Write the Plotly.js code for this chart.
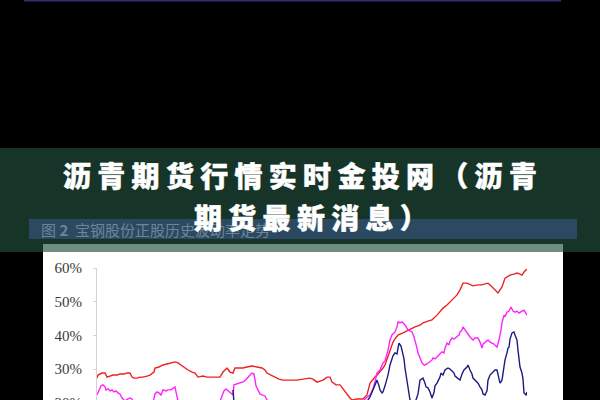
<!DOCTYPE html>
<html>
<head>
<meta charset="utf-8">
<script src="https://cdn.plot.ly/plotly-3.0.1.min.js"></script>
<style>
html,body{margin:0;padding:0;background:#000;overflow:hidden;width:600px;height:400px;}
#chart{width:600px;height:420px;}
</style>
</head>
<body>
<div id="chart"></div>
<script>
// ---- data (time index, volatility) ----
const redX = [0,1,5,8,10,13,16,20,23,27,30,33,35,37,40,43,46,50,53,57,58,62,66,70,73,76,78,81,85,88,91,95,98,101,104,106,110,115,119,123,126,130,133,136,138,142,146,150,155,160,163,165,168,170,174,178,182,186,193,200,206,213,216,220,223,226,230,233,235,239,243,248,251,253,255,260,266,270,273,276,278,281,283,286,288,290,292,294,296,298,301,306,310,313,318,323,326,331,335,340,346,350,353,357,360,363,366,370,373,376,381,385,388,391,394,396,399,401,403,405,408,411,413,417,420,423,425,427,429,430];
const redY = [0.273,0.282,0.288,0.288,0.276,0.279,0.282,0.282,0.285,0.285,0.288,0.288,0.276,0.273,0.273,0.276,0.276,0.279,0.282,0.291,0.303,0.306,0.312,0.315,0.318,0.321,0.321,0.318,0.309,0.303,0.297,0.291,0.288,0.276,0.279,0.279,0.276,0.276,0.276,0.276,0.291,0.303,0.291,0.288,0.303,0.303,0.303,0.306,0.309,0.306,0.303,0.303,0.297,0.288,0.282,0.276,0.270,0.267,0.267,0.267,0.270,0.273,0.270,0.261,0.264,0.267,0.276,0.276,0.261,0.253,0.253,0.232,0.223,0.214,0.208,0.211,0.211,0.223,0.258,0.270,0.276,0.285,0.291,0.303,0.312,0.330,0.348,0.365,0.380,0.390,0.401,0.407,0.413,0.416,0.425,0.430,0.437,0.442,0.446,0.460,0.481,0.490,0.499,0.510,0.520,0.535,0.555,0.555,0.550,0.547,0.550,0.550,0.553,0.555,0.547,0.541,0.532,0.526,0.535,0.544,0.570,0.576,0.579,0.582,0.585,0.582,0.579,0.588,0.594,0.597];

const magX = [0,2,4,6,8,9,11,13,15,17,19,21,23,25,28,31,33,35,37,43,51,56,58,60,62,64,66,69,71,74,76,78,79,81,85,98,113,122,125,127,129,131,133,135,136,137,140,143,146,149,151,153,155,157,159,161,163,165,168,170,173,188,213,238,258,265,269,273,276,278,280,283,286,288,291,293,295,298,300,301,303,305,307,308,311,313,315,317,318,320,321,323,325,327,328,330,333,335,336,338,340,342,345,347,348,350,352,353,355,357,360,362,363,365,366,368,370,372,373,375,376,378,381,383,385,386,388,390,391,393,395,397,400,402,404,405,407,408,410,412,414,416,418,420,422,423,425,427,429,430];
const magY = [0.223,0.238,0.250,0.253,0.247,0.238,0.241,0.235,0.238,0.232,0.235,0.229,0.226,0.214,0.205,0.211,0.214,0.211,0.195,0.185,0.190,0.200,0.226,0.232,0.229,0.223,0.238,0.235,0.238,0.238,0.244,0.247,0.232,0.205,0.190,0.180,0.185,0.195,0.220,0.235,0.241,0.235,0.232,0.226,0.223,0.253,0.256,0.259,0.262,0.268,0.276,0.282,0.288,0.285,0.250,0.238,0.226,0.223,0.220,0.208,0.195,0.175,0.170,0.175,0.185,0.200,0.214,0.223,0.241,0.262,0.288,0.297,0.318,0.324,0.356,0.386,0.401,0.410,0.425,0.440,0.437,0.440,0.434,0.431,0.416,0.413,0.410,0.395,0.386,0.362,0.348,0.333,0.318,0.312,0.312,0.315,0.321,0.327,0.333,0.330,0.336,0.342,0.351,0.348,0.362,0.377,0.371,0.383,0.392,0.389,0.395,0.401,0.410,0.416,0.425,0.416,0.410,0.401,0.395,0.389,0.386,0.392,0.392,0.380,0.362,0.374,0.380,0.383,0.386,0.380,0.377,0.374,0.365,0.386,0.416,0.437,0.460,0.455,0.469,0.472,0.484,0.472,0.469,0.472,0.466,0.469,0.472,0.475,0.466,0.460];

const navyX = [136,137,139,163,203,243,263,269,271,273,275,278,280,282,283,285,286,288,290,291,293,295,296,298,300,301,302,304,305,307,308,310,311,312,313,315,318,320,321,323,325,326,328,329,331,333,335,337,338,340,343,344,346,348,351,353,355,357,358,360,361,363,365,367,370,371,373,375,376,378,381,383,385,386,388,390,391,393,395,396,398,400,402,403,405,406,408,410,411,412,413,415,417,418,420,421,422,423,424,425,426,427,429,430];
const navyY = [0.238,0.200,0.170,0.150,0.140,0.160,0.180,0.200,0.208,0.217,0.232,0.253,0.267,0.250,0.238,0.229,0.232,0.250,0.267,0.282,0.312,0.330,0.339,0.348,0.345,0.362,0.377,0.368,0.356,0.330,0.303,0.270,0.247,0.226,0.208,0.190,0.200,0.217,0.226,0.267,0.270,0.273,0.258,0.247,0.244,0.232,0.214,0.230,0.250,0.258,0.276,0.288,0.282,0.297,0.303,0.300,0.294,0.288,0.279,0.273,0.270,0.267,0.285,0.297,0.306,0.312,0.297,0.285,0.273,0.267,0.258,0.247,0.238,0.226,0.223,0.235,0.267,0.282,0.288,0.291,0.297,0.297,0.276,0.258,0.267,0.288,0.327,0.348,0.362,0.365,0.389,0.407,0.410,0.401,0.386,0.356,0.318,0.306,0.297,0.288,0.270,0.229,0.223,0.232,0.267,0.282,0.288];

const yTickVals = [0.2,0.3,0.4,0.5,0.6];
const yTickText = ['20%','30%','40%','50%','60%'];

const titleLine1 = '沥青期货行情实时金投网（沥青';
const titleLine2 = '期货最新消息）';
const captionText = '图 <b>2</b>  宝钢股份正股历史波动率走势';

// ---- layout helpers (pixel -> paper) ----
const W = 600, H = 420;
const fx = p => p / W;
const fy = p => (H - p) / H;
const pxPer10 = 33.67;
const yTopPx = 268, yBotPx = 415;
const yMin = 0.6 - (yBotPx - yTopPx) / pxPer10 * 0.1;

function rect(x0, y0, x1, y1, color) {
  return {type:'rect', xref:'paper', yref:'paper', layer:'below',
    x0:fx(x0), x1:fx(x1), y0:fy(y1), y1:fy(y0),
    fillcolor:color, line:{width:0}};
}

const traces = [
  {x:redX, y:redY, mode:'lines', line:{color:'#ee2222', width:1.4}, name:'red', hoverinfo:'skip'},
  {x:magX, y:magY, mode:'lines', line:{color:'#ff22ff', width:1.4}, name:'magenta', hoverinfo:'skip'},
  {x:navyX, y:navyY, mode:'lines', line:{color:'#1c1c80', width:1.4}, name:'navy', hoverinfo:'skip'}
];

const layout = {
  width: W, height: H,
  margin:{l:0,r:0,t:0,b:0},
  paper_bgcolor:'#000000',
  plot_bgcolor:'rgba(0,0,0,0)',
  showlegend:false,
  xaxis:{domain:[fx(97), fx(527)], range:[0,430], visible:false, fixedrange:true},
  yaxis:{domain:[fy(yBotPx), fy(yTopPx)], range:[yMin, 0.6],
    tickvals:yTickVals, ticktext:yTickText,
    showgrid:false, zeroline:false,
    showline:true, linecolor:'#d4d4d4', linewidth:1,
    ticks:'outside', ticklen:3, tickcolor:'#d4d4d4', tickwidth:1,
    ticklabelstandoff:8,
    tickfont:{family:'Liberation Serif', size:15, color:'#3a3a3a'},
    fixedrange:true},
  shapes:[
    rect(24, 0, 561, 1.6, '#2e2e72'),
    rect(0, 148, 600, 252, '#163428'),
    rect(29, 219, 577, 239, '#2b4a61'),
    rect(43, 244, 563, 252, '#6e8f80'),
    rect(43, 252, 563, 420, '#ffffff')
  ],
  annotations:[
    {xref:'paper', yref:'paper', x:fx(39), y:fy(229), xanchor:'left', yanchor:'middle',
     align:'left', showarrow:false, text:captionText,
     font:{family:'Noto Sans CJK SC', size:15, color:'#6c8598'}},
    {xref:'paper', yref:'paper', x:fx(61), y:fy(175), xanchor:'left', yanchor:'middle',
     align:'left', showarrow:false, text:titleLine1,
     font:{family:'Noto Sans CJK SC', size:28, color:'#ffffff', weight:900}},
    {xref:'paper', yref:'paper', x:fx(192), y:fy(217), xanchor:'left', yanchor:'middle',
     align:'left', showarrow:false, text:titleLine2,
     font:{family:'Noto Sans CJK SC', size:28, color:'#ffffff', weight:900}}
  ]
};

Plotly.newPlot('chart', traces, layout, {staticPlot:true, displayModeBar:false}).then(function(){
  document.querySelectorAll('.annotation-text').forEach(function(t){
    const s = t.textContent;
    if (s === titleLine1 || s === titleLine2) {
      t.style.letterSpacing = '6.3px';
      t.style.stroke = '#ffffff';
      t.style.strokeWidth = '0.5px';
      t.style.paintOrder = 'stroke';
    }
  });
});
</script>
</body>
</html>
